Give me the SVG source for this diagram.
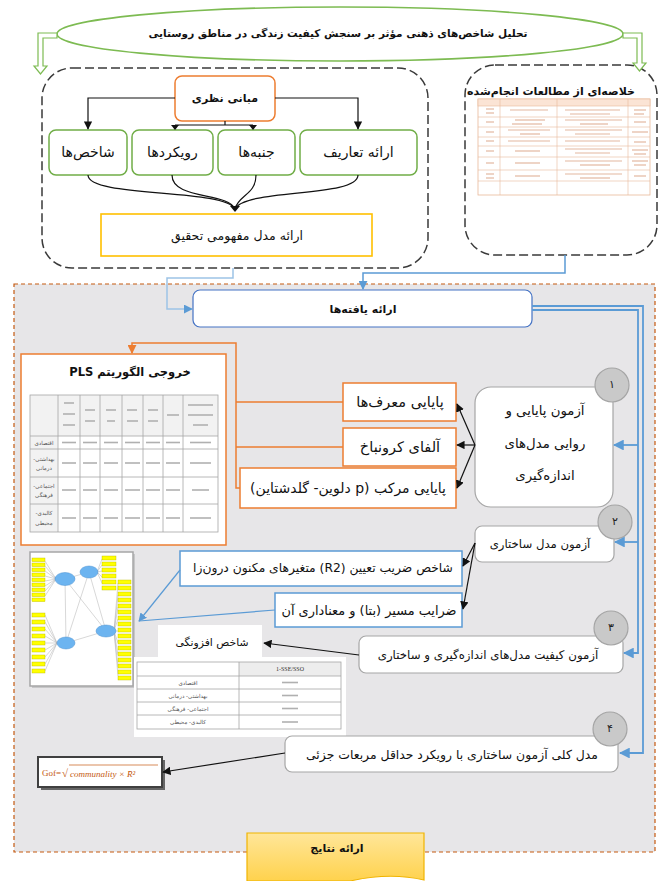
<svg xmlns="http://www.w3.org/2000/svg" width="661" height="881" viewBox="0 0 661 881">
<style>
.fa{font-family:"DejaVu Sans",sans-serif;direction:rtl;text-anchor:middle;dominant-baseline:central;fill:#111}
.b{font-weight:bold}
.sm{fill:#555}
.num{font-family:"DejaVu Sans",sans-serif;text-anchor:middle;dominant-baseline:central;fill:#222}
.k{fill:none;stroke:#111;stroke-width:1.2}
.blu{fill:none;stroke:#5b9bd5;stroke-width:1.8}
.org{fill:none;stroke:#ed7d31;stroke-width:1.5}
.gbox{fill:#fff;stroke:#70ad47;stroke-width:1.5}
.obox{fill:#fff;stroke:#ed7d31;stroke-width:1.5}
.bbox{fill:#fff;stroke:#5b9bd5;stroke-width:1.5}
.wbox{fill:#fff;stroke:#a6a6a6;stroke-width:1.2}
.circ{fill:#c9c9c9;stroke:#a5a5a5;stroke-width:1.2}
.dash{fill:#fff;stroke:#3a3a3a;stroke-width:1.5;stroke-dasharray:9 4}
.grid{fill:none;stroke:#a6a6a6;stroke-width:0.8}
.ph{stroke:#b0b0b0;stroke-width:1.6}
.ph2{stroke:#e3b8a0;stroke-width:1.2}
.yr{fill:#ffff00;stroke:#b8b800;stroke-width:0.4}
.el{fill:#6cb4f0;stroke:#4a90d0;stroke-width:0.5}
.gl{stroke:#b0b0b0;stroke-width:0.5}
</style>
<defs>
<marker id="ak" viewBox="0 0 10 10" refX="9" refY="5" markerWidth="7" markerHeight="7" orient="auto"><path d="M0,0 L10,5 L0,10 z" fill="#111"/></marker>
<marker id="ab" viewBox="0 0 10 10" refX="9" refY="5" markerWidth="6" markerHeight="6" orient="auto"><path d="M0,0 L10,5 L0,10 z" fill="#5b9bd5"/></marker>
<marker id="abl" viewBox="0 0 10 10" refX="9" refY="5" markerWidth="7" markerHeight="7" orient="auto"><path d="M0,0 L10,5 L0,10 z" fill="#5b9bd5"/></marker>
<marker id="ao" viewBox="0 0 10 10" refX="9" refY="5" markerWidth="6" markerHeight="6" orient="auto"><path d="M0,0 L10,5 L0,10 z" fill="#ed7d31"/></marker>
<linearGradient id="yg" x1="0" y1="0" x2="0" y2="1"><stop offset="0" stop-color="#ffe699"/><stop offset="1" stop-color="#ffd24d"/></linearGradient>
</defs>

<rect x="0" y="0" width="661" height="881" fill="#fff"/>

<!-- results region -->
<rect id="region" x="14" y="284" width="641" height="568" fill="#e7e6e8" stroke="#c55a11" stroke-width="1.2" stroke-dasharray="4 3"/>

<g id="title">
<ellipse cx="340" cy="34" rx="283" ry="27" fill="#fff" stroke="#7dbb52" stroke-width="1.6"/>
<text class="fa b" x="338" y="33" font-size="10.5">تحلیل شاخص‌های ذهنی مؤثر بر سنجش کیفیت زندگی در مناطق روستایی</text>
</g>

<g id="left-frame"><rect class="dash" x="42" y="68" width="386" height="200" rx="30"/></g>
<g id="right-frame"><rect class="dash" x="465" y="65" width="192" height="190" rx="30"/></g>

<g id="mabani"><rect class="obox" x="175" y="76" width="100" height="45" rx="7"/><text class="fa b" x="225" y="98" font-size="11">مبانی نظری</text></g>
<g id="shakhes"><rect class="gbox" x="49" y="130" width="78" height="45" rx="7"/><text class="fa" x="88" y="152" font-size="14">شاخص‌ها</text></g>
<g id="ruykard"><rect class="gbox" x="132" y="130" width="81" height="45" rx="7"/><text class="fa" x="172.5" y="152" font-size="14">رویکردها</text></g>
<g id="janbe"><rect class="gbox" x="218" y="130" width="77" height="45" rx="7"/><text class="fa" x="256.5" y="152" font-size="14">جنبه‌ها</text></g>
<g id="tarif"><rect class="gbox" x="300" y="130" width="117" height="45" rx="7"/><text class="fa" x="358.5" y="152" font-size="14">ارائه تعاریف</text></g>
<g id="model"><rect x="101" y="214" width="271" height="42" fill="#fff" stroke="#ffc000" stroke-width="1.6"/><text class="fa" x="237" y="235" font-size="12.5">ارائه مدل مفهومی تحقیق</text></g>

<g id="kholase">
<text class="fa b" x="551" y="91" font-size="11">خلاصه‌ای از مطالعات انجام‌شده</text>
<rect x="478" y="99" width="172" height="96" fill="#fff" stroke="#e8b89a" stroke-width="0.8"/>
<rect x="478" y="99" width="172" height="7" fill="#fbe4d5" stroke="#e8b89a" stroke-width="0.6"/>
<g stroke="#e8b89a" stroke-width="0.6">
<line x1="500" y1="99" x2="500" y2="195"/><line x1="557" y1="99" x2="557" y2="195"/><line x1="628" y1="99" x2="628" y2="195"/>
<line x1="478" y1="117" x2="650" y2="117"/><line x1="478" y1="127" x2="650" y2="127"/><line x1="478" y1="137" x2="650" y2="137"/><line x1="478" y1="146" x2="650" y2="146"/><line x1="478" y1="157" x2="650" y2="157"/><line x1="478" y1="170" x2="650" y2="170"/><line x1="478" y1="181" x2="650" y2="181"/>
</g>
<g class="ph2">
<line x1="486" y1="109" x2="494" y2="109"/><line x1="486" y1="113" x2="494" y2="113"/><line x1="510" y1="110" x2="548" y2="110"/><line x1="565" y1="110" x2="620" y2="110"/><line x1="570" y1="114" x2="610" y2="114"/><line x1="634" y1="110" x2="646" y2="110"/><line x1="634" y1="114" x2="644" y2="114"/>
<line x1="486" y1="122" x2="494" y2="122"/><line x1="515" y1="120" x2="545" y2="120"/><line x1="512" y1="124" x2="542" y2="124"/><line x1="565" y1="120" x2="622" y2="120"/><line x1="580" y1="124" x2="608" y2="124"/><line x1="634" y1="122" x2="646" y2="122"/>
<line x1="486" y1="132" x2="494" y2="132"/><line x1="508" y1="130" x2="550" y2="130"/><line x1="520" y1="134" x2="540" y2="134"/><line x1="565" y1="130" x2="622" y2="130"/><line x1="575" y1="134" x2="610" y2="134"/><line x1="632" y1="132" x2="648" y2="132"/>
<line x1="486" y1="141" x2="494" y2="141"/><line x1="508" y1="141" x2="550" y2="141"/><line x1="565" y1="141" x2="620" y2="141"/><line x1="634" y1="142" x2="646" y2="142"/>
<line x1="486" y1="151" x2="494" y2="151"/><line x1="515" y1="151" x2="540" y2="151"/><line x1="565" y1="149" x2="622" y2="149"/><line x1="575" y1="153" x2="610" y2="153"/><line x1="632" y1="150" x2="648" y2="150"/><line x1="634" y1="154" x2="646" y2="154"/>
<line x1="486" y1="163" x2="494" y2="163"/><line x1="515" y1="163" x2="540" y2="163"/><line x1="565" y1="161" x2="622" y2="161"/><line x1="580" y1="165" x2="610" y2="165"/><line x1="632" y1="161" x2="648" y2="161"/><line x1="634" y1="165" x2="646" y2="165"/>
<line x1="486" y1="174" x2="494" y2="174"/><line x1="486" y1="178" x2="494" y2="178"/><line x1="515" y1="176" x2="540" y2="176"/><line x1="565" y1="174" x2="622" y2="174"/><line x1="580" y1="178" x2="610" y2="178"/><line x1="634" y1="176" x2="646" y2="176"/>
</g>
</g>

<g id="yafteha"><rect x="193" y="290" width="339" height="37" rx="7" fill="#fff" stroke="#4472c4" stroke-width="1.2"/><text class="fa b" x="363" y="309" font-size="11">ارائه یافته‌ها</text></g>

<g id="pls">
<rect class="obox" x="21" y="354" width="205" height="191"/>
<text class="fa b" x="130" y="372" font-size="11.5">خروجی الگوریتم PLS</text>
<rect x="30" y="395" width="188" height="41" fill="#f2f2f2"/>
<rect x="30" y="436" width="28" height="96" fill="#f2f2f2"/>
<rect class="grid" x="30" y="395" width="188" height="137"/>
<g class="grid">
<line x1="58" y1="395" x2="58" y2="532"/><line x1="80" y1="395" x2="80" y2="532"/><line x1="100" y1="395" x2="100" y2="532"/><line x1="122" y1="395" x2="122" y2="532"/><line x1="143" y1="395" x2="143" y2="532"/><line x1="163" y1="395" x2="163" y2="532"/><line x1="183" y1="395" x2="183" y2="532"/>
<line x1="30" y1="436" x2="218" y2="436"/><line x1="30" y1="449" x2="218" y2="449"/><line x1="30" y1="477" x2="218" y2="477"/><line x1="30" y1="504" x2="218" y2="504"/>
</g>
<text class="fa sm" x="44" y="442.5" font-size="5.5">اقتصادی</text>
<text class="fa sm" x="44" y="459" font-size="5.5">بهداشتی-</text><text class="fa sm" x="44" y="468" font-size="5.5">درمانی</text>
<text class="fa sm" x="44" y="486" font-size="5.5">اجتماعی-</text><text class="fa sm" x="44" y="495" font-size="5.5">فرهنگی</text>
<text class="fa sm" x="44" y="513" font-size="5.5">کالبدی-</text><text class="fa sm" x="44" y="523" font-size="5.5">محیطی</text>
<g class="ph">
<line x1="64" y1="403" x2="74" y2="403"/><line x1="63" y1="414" x2="75" y2="414"/><line x1="63" y1="425" x2="75" y2="425"/>
<line x1="85" y1="410" x2="95" y2="410"/><line x1="85" y1="421" x2="95" y2="421"/>
<line x1="106" y1="410" x2="116" y2="410"/><line x1="107" y1="421" x2="115" y2="421"/>
<line x1="127" y1="410" x2="137" y2="410"/><line x1="127" y1="421" x2="138" y2="421"/>
<line x1="148" y1="410" x2="158" y2="410"/><line x1="148" y1="421" x2="158" y2="421"/>
<line x1="167" y1="415" x2="179" y2="415"/>
<line x1="188" y1="405" x2="213" y2="405"/><line x1="188" y1="415" x2="213" y2="415"/><line x1="193" y1="425" x2="208" y2="425"/>
</g>
<g class="ph">
<line x1="62" y1="442.5" x2="76" y2="442.5"/><line x1="83" y1="442.5" x2="97" y2="442.5"/><line x1="104" y1="442.5" x2="118" y2="442.5"/><line x1="125" y1="442.5" x2="140" y2="442.5"/><line x1="146" y1="442.5" x2="160" y2="442.5"/><line x1="166" y1="442.5" x2="180" y2="442.5"/><line x1="190" y1="442.5" x2="211" y2="442.5"/>
<line x1="62" y1="463" x2="76" y2="463"/><line x1="83" y1="463" x2="97" y2="463"/><line x1="104" y1="463" x2="118" y2="463"/><line x1="125" y1="463" x2="140" y2="463"/><line x1="146" y1="463" x2="160" y2="463"/><line x1="166" y1="463" x2="180" y2="463"/><line x1="190" y1="463" x2="211" y2="463"/>
<line x1="62" y1="490" x2="76" y2="490"/><line x1="83" y1="490" x2="97" y2="490"/><line x1="104" y1="490" x2="118" y2="490"/><line x1="125" y1="490" x2="140" y2="490"/><line x1="146" y1="490" x2="160" y2="490"/><line x1="166" y1="490" x2="180" y2="490"/><line x1="192" y1="490" x2="209" y2="490"/>
<line x1="62" y1="518" x2="76" y2="518"/><line x1="83" y1="518" x2="97" y2="518"/><line x1="104" y1="518" x2="118" y2="518"/><line x1="125" y1="518" x2="140" y2="518"/><line x1="146" y1="518" x2="160" y2="518"/><line x1="166" y1="518" x2="180" y2="518"/><line x1="190" y1="518" x2="211" y2="518"/>
</g>
</g>

<g id="test1">
<rect class="wbox" x="475" y="387" width="138" height="120" rx="16"/>
<text class="fa" x="545" y="410" font-size="13.3">آزمون پایایی و</text>
<text class="fa" x="545" y="443" font-size="13.3">روایی مدل‌های</text>
<text class="fa" x="545" y="475" font-size="13.3">اندازه‌گیری</text>
<circle class="circ" cx="612" cy="385" r="17"/><text class="num" x="612" y="384" font-size="11">۱</text>
</g>
<g id="moaref"><rect class="obox" x="343" y="383" width="113" height="38"/><text class="fa" x="400" y="402" font-size="14.5">پایایی معرف‌ها</text></g>
<g id="alfa"><rect class="obox" x="343" y="428" width="113" height="38"/><text class="fa" x="400" y="447" font-size="14.5">آلفای کرونباخ</text></g>
<g id="morakkab"><rect class="obox" x="240" y="468" width="216" height="40"/><text class="fa" x="348" y="488" font-size="14">پایایی مرکب  (p دلوین- گلدشتاین)</text></g>

<g id="test2">
<rect class="wbox" x="475" y="526" width="139" height="36" rx="7"/>
<text class="fa" x="540" y="544" font-size="11.7">آزمون مدل ساختاری</text>
<circle class="circ" cx="615" cy="522" r="17"/><text class="num" x="615" y="521" font-size="11">۲</text>
</g>
<g id="r2"><rect class="bbox" x="180" y="551" width="282" height="35"/><text class="fa" x="323" y="568" font-size="12.3">شاخص ضریب تعیین (R2) متغیرهای مکنون درون‌زا</text></g>
<g id="beta"><rect class="bbox" x="275" y="593" width="187" height="34"/><text class="fa" x="369" y="610" font-size="12.9">ضرایب مسیر (بتا) و معناداری آن</text></g>

<g id="sem">
<rect x="32" y="554" width="103" height="134" fill="#999" opacity="0.4"/>
<rect x="30" y="552" width="103" height="134" fill="#fff" stroke="#a6a6a6" stroke-width="1.5"/>
<g class="gl">
<line x1="65" y1="579" x2="89" y2="572"/><line x1="65" y1="579" x2="66" y2="643"/><line x1="65" y1="579" x2="106" y2="631"/><line x1="89" y1="572" x2="66" y2="643"/><line x1="89" y1="572" x2="106" y2="631"/><line x1="66" y1="643" x2="106" y2="631"/>
<line x1="45" y1="561" x2="56" y2="579"/><line x1="45" y1="566" x2="56" y2="579"/><line x1="45" y1="571" x2="56" y2="579"/><line x1="45" y1="576" x2="56" y2="579"/><line x1="45" y1="581" x2="56" y2="579"/><line x1="45" y1="586" x2="56" y2="579"/><line x1="45" y1="591" x2="56" y2="579"/><line x1="45" y1="596" x2="56" y2="579"/>
<line x1="45" y1="615" x2="57" y2="643"/><line x1="45" y1="622" x2="57" y2="643"/><line x1="45" y1="629" x2="57" y2="643"/><line x1="45" y1="636" x2="57" y2="643"/><line x1="45" y1="643" x2="57" y2="643"/><line x1="45" y1="650" x2="57" y2="643"/><line x1="45" y1="657" x2="57" y2="643"/><line x1="45" y1="664" x2="57" y2="643"/><line x1="45" y1="671" x2="57" y2="643"/>
<line x1="102" y1="559" x2="97" y2="572"/><line x1="102" y1="565" x2="97" y2="572"/><line x1="102" y1="571" x2="97" y2="572"/><line x1="102" y1="577" x2="97" y2="572"/><line x1="102" y1="583" x2="97" y2="572"/>
<line x1="118" y1="583" x2="114" y2="631"/><line x1="118" y1="595" x2="114" y2="631"/><line x1="118" y1="607" x2="114" y2="631"/><line x1="118" y1="619" x2="114" y2="631"/><line x1="118" y1="631" x2="114" y2="631"/><line x1="118" y1="643" x2="114" y2="631"/><line x1="118" y1="655" x2="114" y2="631"/><line x1="118" y1="667" x2="114" y2="631"/><line x1="118" y1="676" x2="114" y2="631"/>
</g>
<g class="yr">
<rect x="32" y="558" width="13" height="3.6"/><rect x="32" y="563" width="13" height="3.6"/><rect x="32" y="568" width="13" height="3.6"/><rect x="32" y="573" width="13" height="3.6"/><rect x="32" y="578" width="13" height="3.6"/><rect x="32" y="583" width="13" height="3.6"/><rect x="32" y="588" width="13" height="3.6"/><rect x="32" y="593" width="13" height="3.6"/><rect x="32" y="598" width="13" height="3.6"/>
<rect x="32" y="613" width="13" height="4"/><rect x="32" y="620" width="13" height="4"/><rect x="32" y="627" width="13" height="4"/><rect x="32" y="634" width="13" height="4"/><rect x="32" y="641" width="13" height="4"/><rect x="32" y="648" width="13" height="4"/><rect x="32" y="655" width="13" height="4"/><rect x="32" y="662" width="13" height="4"/><rect x="32" y="669" width="13" height="4"/>
<rect x="102" y="556" width="14" height="4"/><rect x="102" y="562" width="14" height="4"/><rect x="102" y="568" width="14" height="4"/><rect x="102" y="574" width="14" height="4"/><rect x="102" y="580" width="14" height="4"/><rect x="102" y="586" width="14" height="4"/>
<rect x="118" y="580" width="13" height="4"/><rect x="118" y="586" width="13" height="4"/><rect x="118" y="592" width="13" height="4"/><rect x="118" y="598" width="13" height="4"/><rect x="118" y="604" width="13" height="4"/><rect x="118" y="610" width="13" height="4"/><rect x="118" y="616" width="13" height="4"/><rect x="118" y="622" width="13" height="4"/><rect x="118" y="628" width="13" height="4"/><rect x="118" y="634" width="13" height="4"/><rect x="118" y="640" width="13" height="4"/><rect x="118" y="646" width="13" height="4"/><rect x="118" y="652" width="13" height="4"/><rect x="118" y="658" width="13" height="4"/><rect x="118" y="664" width="13" height="4"/><rect x="118" y="670" width="13" height="4"/><rect x="118" y="676" width="13" height="4"/>
</g>
<g class="el">
<ellipse cx="65" cy="579" rx="10" ry="6.5"/><ellipse cx="89" cy="572" rx="9" ry="6"/><ellipse cx="66" cy="643" rx="9" ry="6"/><ellipse cx="106" cy="631" rx="10" ry="6"/>
</g>
</g>

<g id="test3">
<rect class="wbox" x="359" y="636" width="264" height="37" rx="7"/>
<text class="fa" x="488" y="655" font-size="11.8">آزمون کیفیت مدل‌های اندازه‌گیری و ساختاری</text>
<circle class="circ" cx="611" cy="628" r="17"/><text class="num" x="611" y="627" font-size="11">۳</text>
</g>
<g id="afzunegi">
<rect x="158" y="625" width="104" height="33" fill="#fff"/>
<text class="fa" x="212" y="642" font-size="10.8">شاخص افزونگی</text>
<rect x="134" y="657" width="212" height="80" fill="#fff"/>
<rect x="239" y="662" width="102" height="14" fill="#ededed"/>
<rect class="grid" x="137" y="662" width="204" height="67"/>
<g class="grid"><line x1="239" y1="662" x2="239" y2="729"/><line x1="137" y1="676" x2="341" y2="676"/><line x1="137" y1="689" x2="341" y2="689"/><line x1="137" y1="702" x2="341" y2="702"/><line x1="137" y1="715" x2="341" y2="715"/></g>
<text x="290" y="669" font-family="Liberation Serif, serif" font-size="6" text-anchor="middle" dominant-baseline="central" fill="#333">1-SSE/SSO</text>
<text class="fa sm" x="188" y="682.5" font-size="5.5">اقتصادی</text>
<text class="fa sm" x="188" y="695.5" font-size="5.5">بهداشتی- درمانی</text>
<text class="fa sm" x="188" y="708.5" font-size="5.5">اجتماعی- فرهنگی</text>
<text class="fa sm" x="188" y="722" font-size="5.5">کالبدی- محیطی</text>
<g class="ph"><line x1="282" y1="682.5" x2="298" y2="682.5"/><line x1="282" y1="695.5" x2="298" y2="695.5"/><line x1="282" y1="708.5" x2="298" y2="708.5"/><line x1="282" y1="722" x2="298" y2="722"/></g>
</g>

<g id="test4">
<rect class="wbox" x="285" y="736" width="333" height="36" rx="7"/>
<text class="fa" x="452" y="754" font-size="12.4">مدل کلی  آزمون ساختاری با رویکرد حداقل مربعات جزئی</text>
<circle class="circ" cx="610" cy="729" r="17"/><text class="num" x="610" y="728" font-size="11">۴</text>
</g>
<g id="gof">
<rect x="41" y="760" width="124" height="30" fill="#666"/>
<rect x="38" y="757" width="124" height="30" fill="#fff" stroke="#404040" stroke-width="2"/>
<text x="42" y="773" font-family="Liberation Serif, serif" font-size="9" fill="#c55a11" dominant-baseline="central">Gof=</text>
<text x="62" y="773" font-family="Liberation Serif, serif" font-size="11" fill="#c55a11" dominant-baseline="central">√</text>
<line x1="69" y1="765" x2="158" y2="765" stroke="#c55a11" stroke-width="0.7"/>
<text x="70" y="774" font-family="Liberation Serif, serif" font-style="italic" font-size="9" fill="#c55a11" dominant-baseline="central">communality  × R̄²</text>
</g>

<g id="natayej">
<path d="M247 833 H424 V880 Q390 872 350 881 H247 Z" fill="url(#yg)" stroke="#f0b400" stroke-width="1.2"/>
<text class="fa b" x="337" y="848" font-size="11">ارائه نتایج</text>
</g>

<g id="connectors">
<polygon points="57,33 38,33 38,66 34,66 40.5,74 47,66 43,66 43,38 57,38" fill="#fff" stroke="#7dbb52" stroke-width="1.2"/>
<polygon points="623,33 642,33 642,63 646,63 639.5,71 633,63 637,63 637,38 623,38" fill="#fff" stroke="#7dbb52" stroke-width="1.2"/>
<path class="k" d="M175 98 H88 V129" marker-end="url(#ak)"/>
<path class="k" d="M275 98 H358 V129" marker-end="url(#ak)"/>
<path class="k" d="M225 121 V125 M175 125 H253"/>
<polygon points="171,125 179,125 175,130" fill="#111"/>
<polygon points="249,125 257,125 253,130" fill="#111"/>
<path class="k" d="M88 175 C88 198 225 188 235 209"/>
<path class="k" d="M172 175 C172 200 228 192 235 209"/>
<path class="k" d="M256 175 C256 195 238 195 235 209"/>
<path class="k" d="M358 175 C358 198 245 188 235 209"/>
<polygon points="230,206 240,206 235,212" fill="#111"/>
<path fill="none" stroke="#5b9bd5" stroke-width="1.5" d="M565 255 V273 H363 V289" marker-end="url(#ab)"/>
<path fill="none" stroke="#9dc3e6" stroke-width="1.5" d="M233 268 V278 H167 V309 H192" marker-end="url(#ab)"/>
<path class="blu" d="M532 306 H643 V753 H620" marker-end="url(#ab)"/>
<path class="blu" d="M532 310 H638 V653 H624" marker-end="url(#ab)"/>
<path class="blu" d="M638 445 H614" marker-end="url(#ab)"/>
<path class="blu" d="M638 542 H615" marker-end="url(#ab)"/>
<path class="k" d="M475 445 L457 404" marker-end="url(#ak)"/>
<path class="k" d="M475 445 H457" marker-end="url(#ak)"/>
<path class="k" d="M475 445 L457 488" marker-end="url(#ak)"/>
<path class="org" d="M343 402 H236 M343 447 H236 M240 488 H236 V343 H132 V353" marker-end="url(#ao)"/>
<path class="k" d="M475 543 L463 566" marker-end="url(#ak)"/>
<path class="k" d="M475 543 L463 609" marker-end="url(#ak)"/>
<path fill="none" stroke="#5b9bd5" stroke-width="1.2" d="M180 570 L139 621" marker-end="url(#abl)"/>
<path fill="none" stroke="#5b9bd5" stroke-width="1.2" d="M275 610 L139 621"/>
<path class="k" d="M359 655 L264 643" marker-end="url(#ak)"/>
<path class="k" d="M285 753 L163 772" marker-end="url(#ak)"/>
</g>
</svg>
